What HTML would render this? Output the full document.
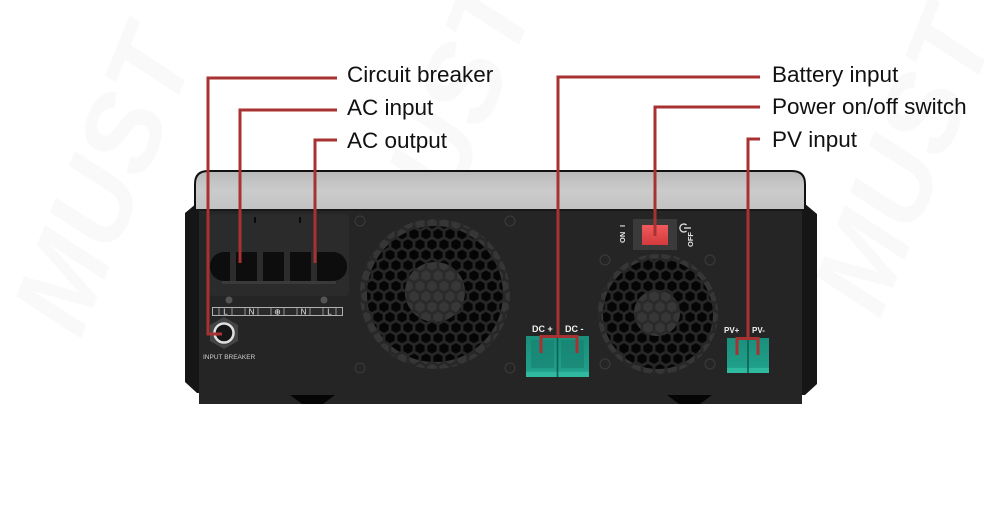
<!DOCTYPE html>
<html><head><meta charset="utf-8"><style>
html,body{margin:0;padding:0;background:#fff;width:1000px;height:517px;overflow:hidden;}
svg{display:block;overflow:hidden;}
text{font-family:"Liberation Sans",Arial,sans-serif;}
</style></head><body>
<svg width="1000" height="517" viewBox="0 0 1000 517" xmlns="http://www.w3.org/2000/svg">
<defs>
  <linearGradient id="silver" x1="0" y1="0" x2="0" y2="1">
    <stop offset="0" stop-color="#b9b9b9"/>
    <stop offset="0.5" stop-color="#cbcbcb"/>
    <stop offset="1" stop-color="#c3c3c3"/>
  </linearGradient>
  <linearGradient id="redbtn" x1="0" y1="0" x2="0" y2="1">
    <stop offset="0" stop-color="#f05a5c"/>
    <stop offset="1" stop-color="#d23a3e"/>
  </linearGradient>
  <linearGradient id="teal" x1="0" y1="0" x2="0" y2="1">
    <stop offset="0" stop-color="#1a8f7c"/>
    <stop offset="0.8" stop-color="#1f9e88"/>
    <stop offset="1" stop-color="#27b39a"/>
  </linearGradient>
  <pattern id="hexBlack" width="12" height="20.78" patternUnits="userSpaceOnUse">
    <rect width="12" height="20.78" fill="#272727"/>
    <g fill="#050505">
      <polygon points="6,0.2 10.6,2.85 10.6,8.15 6,10.8 1.4,8.15 1.4,2.85"/>
      <polygon points="0,10.59 4.6,13.24 4.6,18.54 0,21.19 -4.6,18.54 -4.6,13.24"/>
      <polygon points="12,10.59 16.6,13.24 16.6,18.54 12,21.19 7.4,18.54 7.4,13.24"/>
      <polygon points="0,-10.19 4.6,-7.54 4.6,-2.24 0,0.41 -4.6,-2.24 -4.6,-7.54"/>
      <polygon points="12,-10.19 16.6,-7.54 16.6,-2.24 12,0.41 7.4,-2.24 7.4,-7.54"/>
      <polygon points="6,20.98 10.6,23.63 10.6,28.93 6,31.58 1.4,28.93 1.4,23.63"/>
    </g>
  </pattern>
  <pattern id="hexGray" width="12" height="20.78" patternUnits="userSpaceOnUse">
    <rect width="12" height="20.78" fill="#272727"/>
    <g fill="#363636">
      <polygon points="6,0.2 10.6,2.85 10.6,8.15 6,10.8 1.4,8.15 1.4,2.85"/>
      <polygon points="0,10.59 4.6,13.24 4.6,18.54 0,21.19 -4.6,18.54 -4.6,13.24"/>
      <polygon points="12,10.59 16.6,13.24 16.6,18.54 12,21.19 7.4,18.54 7.4,13.24"/>
      <polygon points="0,-10.19 4.6,-7.54 4.6,-2.24 0,0.41 -4.6,-2.24 -4.6,-7.54"/>
      <polygon points="12,-10.19 16.6,-7.54 16.6,-2.24 12,0.41 7.4,-2.24 7.4,-7.54"/>
      <polygon points="6,20.98 10.6,23.63 10.6,28.93 6,31.58 1.4,28.93 1.4,23.63"/>
    </g>
  </pattern>
  <pattern id="hexHub" width="12" height="20.78" patternUnits="userSpaceOnUse">
    <rect width="12" height="20.78" fill="#2a2a2a"/>
    <g fill="#373737">
      <polygon points="6,0.2 10.6,2.85 10.6,8.15 6,10.8 1.4,8.15 1.4,2.85"/>
      <polygon points="0,10.59 4.6,13.24 4.6,18.54 0,21.19 -4.6,18.54 -4.6,13.24"/>
      <polygon points="12,10.59 16.6,13.24 16.6,18.54 12,21.19 7.4,18.54 7.4,13.24"/>
      <polygon points="0,-10.19 4.6,-7.54 4.6,-2.24 0,0.41 -4.6,-2.24 -4.6,-7.54"/>
      <polygon points="12,-10.19 16.6,-7.54 16.6,-2.24 12,0.41 7.4,-2.24 7.4,-7.54"/>
      <polygon points="6,20.98 10.6,23.63 10.6,28.93 6,31.58 1.4,28.93 1.4,23.63"/>
    </g>
  </pattern>
</defs>

<rect width="1000" height="517" fill="#ffffff"/>

<!-- watermarks (very faint) -->
<g fill="#f9f9f9" font-family="Liberation Sans, sans-serif" font-weight="bold" font-style="italic" font-size="110">
  <text transform="translate(80,340) rotate(-68)">MUST</text>
  <text transform="translate(420,290) rotate(-68)">MUST</text>
  <text transform="translate(880,320) rotate(-68)">MUST</text>
</g>

<!-- side plates -->
<polygon points="185,213 197,203 201,203 201,393 197,393 185,382" fill="#161616"/>
<polygon points="800,203 804,203 817,214 817,384 805,395 800,395" fill="#161616"/>
<line x1="200" y1="212" x2="200" y2="236" stroke="#9a9a9a" stroke-width="1.2"/>
<line x1="801" y1="204" x2="801" y2="238" stroke="#cfcfcf" stroke-width="1.2"/>

<!-- front face -->
<rect x="199" y="206" width="603" height="198" fill="#252525"/>
<!-- feet -->
<polygon points="290,395 335,395 323,404 302,404" fill="#050505"/>
<polygon points="667,395 712,395 700,404 679,404" fill="#050505"/>

<!-- silver top -->
<path d="M195,210 V184 Q195,171 208,171 H792 Q805,171 805,184 V210 Z" fill="url(#silver)" stroke="#111" stroke-width="2"/>
<line x1="196" y1="210" x2="804" y2="210" stroke="#1a1a1a" stroke-width="1.5"/>

<!-- AC terminal area -->
<rect x="209" y="214" width="140" height="82" rx="4" fill="#2b2b2b"/>
<rect x="254" y="217" width="2" height="6" fill="#0a0a0a"/>
<rect x="299" y="217" width="2" height="6" fill="#0a0a0a"/>
<rect x="210" y="252" width="137" height="29" rx="14" fill="#0d0d0d"/>
<g fill="#2c2c2c">
  <rect x="230" y="252" width="6" height="29"/>
  <rect x="257" y="252" width="6" height="29"/>
  <rect x="284" y="252" width="6" height="29"/>
  <rect x="311" y="252" width="6" height="29"/>
</g>
<rect x="222" y="281" width="114" height="3" fill="#3a3a3a"/>
<!-- ground symbols -->
<circle cx="229" cy="300" r="3.5" fill="#555"/>
<circle cx="324" cy="300" r="3.5" fill="#555"/>
<!-- label strip -->
<rect x="212.5" y="307.5" width="130" height="8" fill="#2a2a2a" stroke="#b0b0b0" stroke-width="1"/>
<g stroke="#b0b0b0" stroke-width="0.8">
  <line x1="219" y1="308" x2="219" y2="315"/>
  <line x1="232" y1="308" x2="232" y2="315"/>
  <line x1="245" y1="308" x2="245" y2="315"/>
  <line x1="258" y1="308" x2="258" y2="315"/>
  <line x1="271" y1="308" x2="271" y2="315"/>
  <line x1="284" y1="308" x2="284" y2="315"/>
  <line x1="297" y1="308" x2="297" y2="315"/>
  <line x1="310" y1="308" x2="310" y2="315"/>
  <line x1="323" y1="308" x2="323" y2="315"/>
  <line x1="336" y1="308" x2="336" y2="315"/>
</g>
<g fill="#e8e8e8" font-size="8" text-anchor="middle">
  <text x="225.5" y="314.5">L</text>
  <text x="251.5" y="314.5">N</text>
  <text x="277.5" y="314.5">⊕</text>
  <text x="303.5" y="314.5">N</text>
  <text x="329.5" y="314.5">L</text>
</g>

<!-- input breaker -->
<polygon points="224,317 238,325 238,341 224,349 210,341 210,325" fill="#444"/>
<circle cx="224" cy="333" r="9.5" fill="#161616" stroke="#e0e0e0" stroke-width="2.5"/>
<text x="203" y="359" font-size="6.5" fill="#cfcfcf">INPUT BREAKER</text>

<!-- fan 1 -->
<circle cx="435" cy="294" r="75" fill="url(#hexGray)"/>
<circle cx="435" cy="294" r="68" fill="url(#hexBlack)"/>
<circle cx="435" cy="292" r="30" fill="url(#hexHub)"/>
<g fill="none" stroke="#3c3c3c" stroke-width="1">
  <circle cx="360" cy="221" r="5"/><circle cx="510" cy="221" r="5"/>
  <circle cx="360" cy="368" r="5"/><circle cx="510" cy="368" r="5"/>
  <circle cx="605" cy="260" r="5"/><circle cx="710" cy="260" r="5"/>
  <circle cx="605" cy="364" r="5"/><circle cx="710" cy="364" r="5"/>
</g>

<!-- fan 2 -->
<circle cx="658" cy="314" r="60" fill="url(#hexGray)"/>
<circle cx="658" cy="314" r="55" fill="url(#hexBlack)"/>
<circle cx="657" cy="313" r="23" fill="url(#hexHub)"/>

<!-- power switch -->
<rect x="633" y="219" width="44" height="31" fill="#3a3a3a"/>
<rect x="642" y="225" width="26" height="20" fill="url(#redbtn)"/>
<g fill="#e6e6e6" font-size="7.5" font-weight="bold">
  <text transform="translate(625,243) rotate(-90)">ON</text>
  <text transform="translate(625,227) rotate(-90)">I</text>
  <text transform="translate(693,247) rotate(-90)">OFF</text>
</g>
<g fill="none" stroke="#e6e6e6" stroke-width="1.3">
  <path d="M686.5,225 A4,4 0 1 0 686.5,231"/>
  <line x1="684" y1="228" x2="691" y2="228"/>
</g>

<!-- DC connector -->
<g fill="#f2f2f2" font-size="9" font-weight="bold">
  <text x="532" y="332">DC +</text>
  <text x="565" y="332">DC -</text>
</g>
<rect x="526" y="336" width="63" height="41" fill="url(#teal)"/>
<rect x="526" y="372" width="63" height="5" fill="#2fbaa0"/>
<line x1="557.5" y1="336" x2="557.5" y2="377" stroke="#0d5d50" stroke-width="1.5"/>
<rect x="531" y="340" width="23" height="28" fill="#17806f" opacity="0.6"/>
<rect x="561" y="340" width="23" height="28" fill="#17806f" opacity="0.6"/>

<!-- PV connector -->
<g fill="#f2f2f2" font-size="8" font-weight="bold">
  <text x="724" y="333">PV+</text>
  <text x="752" y="333">PV-</text>
</g>
<rect x="727" y="338" width="42" height="35" fill="url(#teal)"/>
<rect x="727" y="368" width="42" height="5" fill="#2fbaa0"/>
<line x1="748" y1="338" x2="748" y2="373" stroke="#0d5d50" stroke-width="1.5"/>

<!-- connector lines -->
<g fill="none" stroke="#a83232" stroke-width="3">
  <path d="M337,78 H208 V334 H222"/>
  <path d="M337,110 H240 V263"/>
  <path d="M337,140 H315 V263"/>
  <path d="M760,77 H558 V336"/>
  <path d="M541,353 V336.5 H577 V353"/>
  <path d="M760,107 H655 V236"/>
  <path d="M760,139 H748 V338"/>
  <path d="M737,355 V338.5 H758 V355"/>
</g>

<!-- labels -->
<g fill="#111" font-size="22.5">
  <text x="347" y="82">Circuit breaker</text>
  <text x="347" y="115">AC input</text>
  <text x="347" y="148">AC output</text>
  <text x="772" y="82">Battery input</text>
  <text x="772" y="114">Power on/off switch</text>
  <text x="772" y="147">PV input</text>
</g>
</svg>
</body></html>
